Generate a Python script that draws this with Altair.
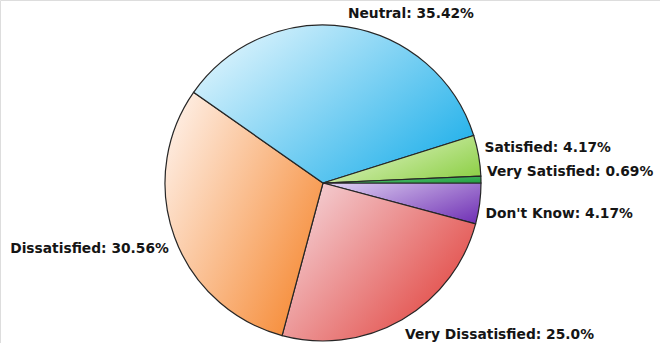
import math

import altair as alt
import pandas as pd

# Survey responses, listed clockwise starting from 3 o'clock
categories = ["Don't Know", "Very Dissatisfied", "Dissatisfied", "Neutral", "Satisfied", "Very Satisfied"]
percentages = [4.17, 25.0, 30.56, 35.42, 4.17, 0.69]

# light -> dark gradient for each slice
slice_colors = {
    "Don't Know": ("#d8c8ee", "#7234b6"),
    "Very Dissatisfied": ("#f4d0d4", "#e03a34"),
    "Dissatisfied": ("#feece0", "#f5842a"),
    "Neutral": ("#def4fd", "#18ade9"),
    "Satisfied": ("#e6f6d0", "#8ccf44"),
    "Very Satisfied": ("#5cc874", "#24a044"),
}

df = pd.DataFrame({
    "category": categories,
    "pct": percentages,
    "order": list(range(len(categories))),
    "label": [f"{c}: {p}%" for c, p in zip(categories, percentages)],
})

CX, CY, R = 323, 183, 158   # pie centre and radius in pixels
LR = 164                    # radius at which labels are anchored

base = (
    alt.Chart(df)
    .transform_joinaggregate(total="sum(pct)")
    .transform_window(cum="sum(pct)", sort=[alt.SortField("order")], frame=[None, 0])
    .transform_calculate(
        start="(datum.cum - datum.pct) / datum.total",
        end="datum.cum / datum.total",
    )
)

# 0 -> 3 o'clock, going clockwise
theta_scale = alt.Scale(domain=[0, 1], range=[math.pi / 2, math.pi / 2 + 2 * math.pi])

layers = []
for cat in categories:
    light, dark = slice_colors[cat]
    grad = {
        "gradient": "linear",
        "x1": 0, "y1": 0.2, "x2": 1, "y2": 0.9,
        "stops": [{"offset": 0, "color": light}, {"offset": 1, "color": dark}],
    }
    layers.append(
        base.transform_filter(alt.FieldEqualPredicate(field="category", equal=cat))
        .mark_arc(outerRadius=R, fill=grad, stroke="#262626", strokeWidth=1.2)
        .encode(
            theta=alt.Theta("start:Q", scale=theta_scale),
            theta2="end:Q",
            x=alt.value(CX),
            y=alt.value(CY),
        )
    )

labels = base.transform_calculate(
    ang="PI * (datum.start + datum.end)",
    lx=f"{CX} + {LR} * cos(datum.ang)",
    ly=f"{CY} + {LR} * sin(datum.ang) + (sin(datum.ang) < 0 ? -7 : 10)",
)

text_style = dict(font="DejaVu Sans", fontSize=13.8, fontWeight="bold", color="#151515", baseline="middle")

right_labels = (
    labels.transform_filter("cos(datum.ang) >= 0")
    .mark_text(align="left", **text_style)
    .encode(x=alt.X("lx:Q", scale=None), y=alt.Y("ly:Q", scale=None), text="label:N")
)
left_labels = (
    labels.transform_filter("cos(datum.ang) < 0")
    .mark_text(align="right", **text_style)
    .encode(x=alt.X("lx:Q", scale=None), y=alt.Y("ly:Q", scale=None), text="label:N")
)

chart = (
    alt.layer(*layers, right_labels, left_labels)
    .properties(width=660, height=343, autosize=alt.AutoSizeParams(type="none"), padding=0)
    .configure_view(stroke=None)
    .configure(background="white")
)

chart.save("out.html", embed_options={"renderer": "svg", "actions": False})
